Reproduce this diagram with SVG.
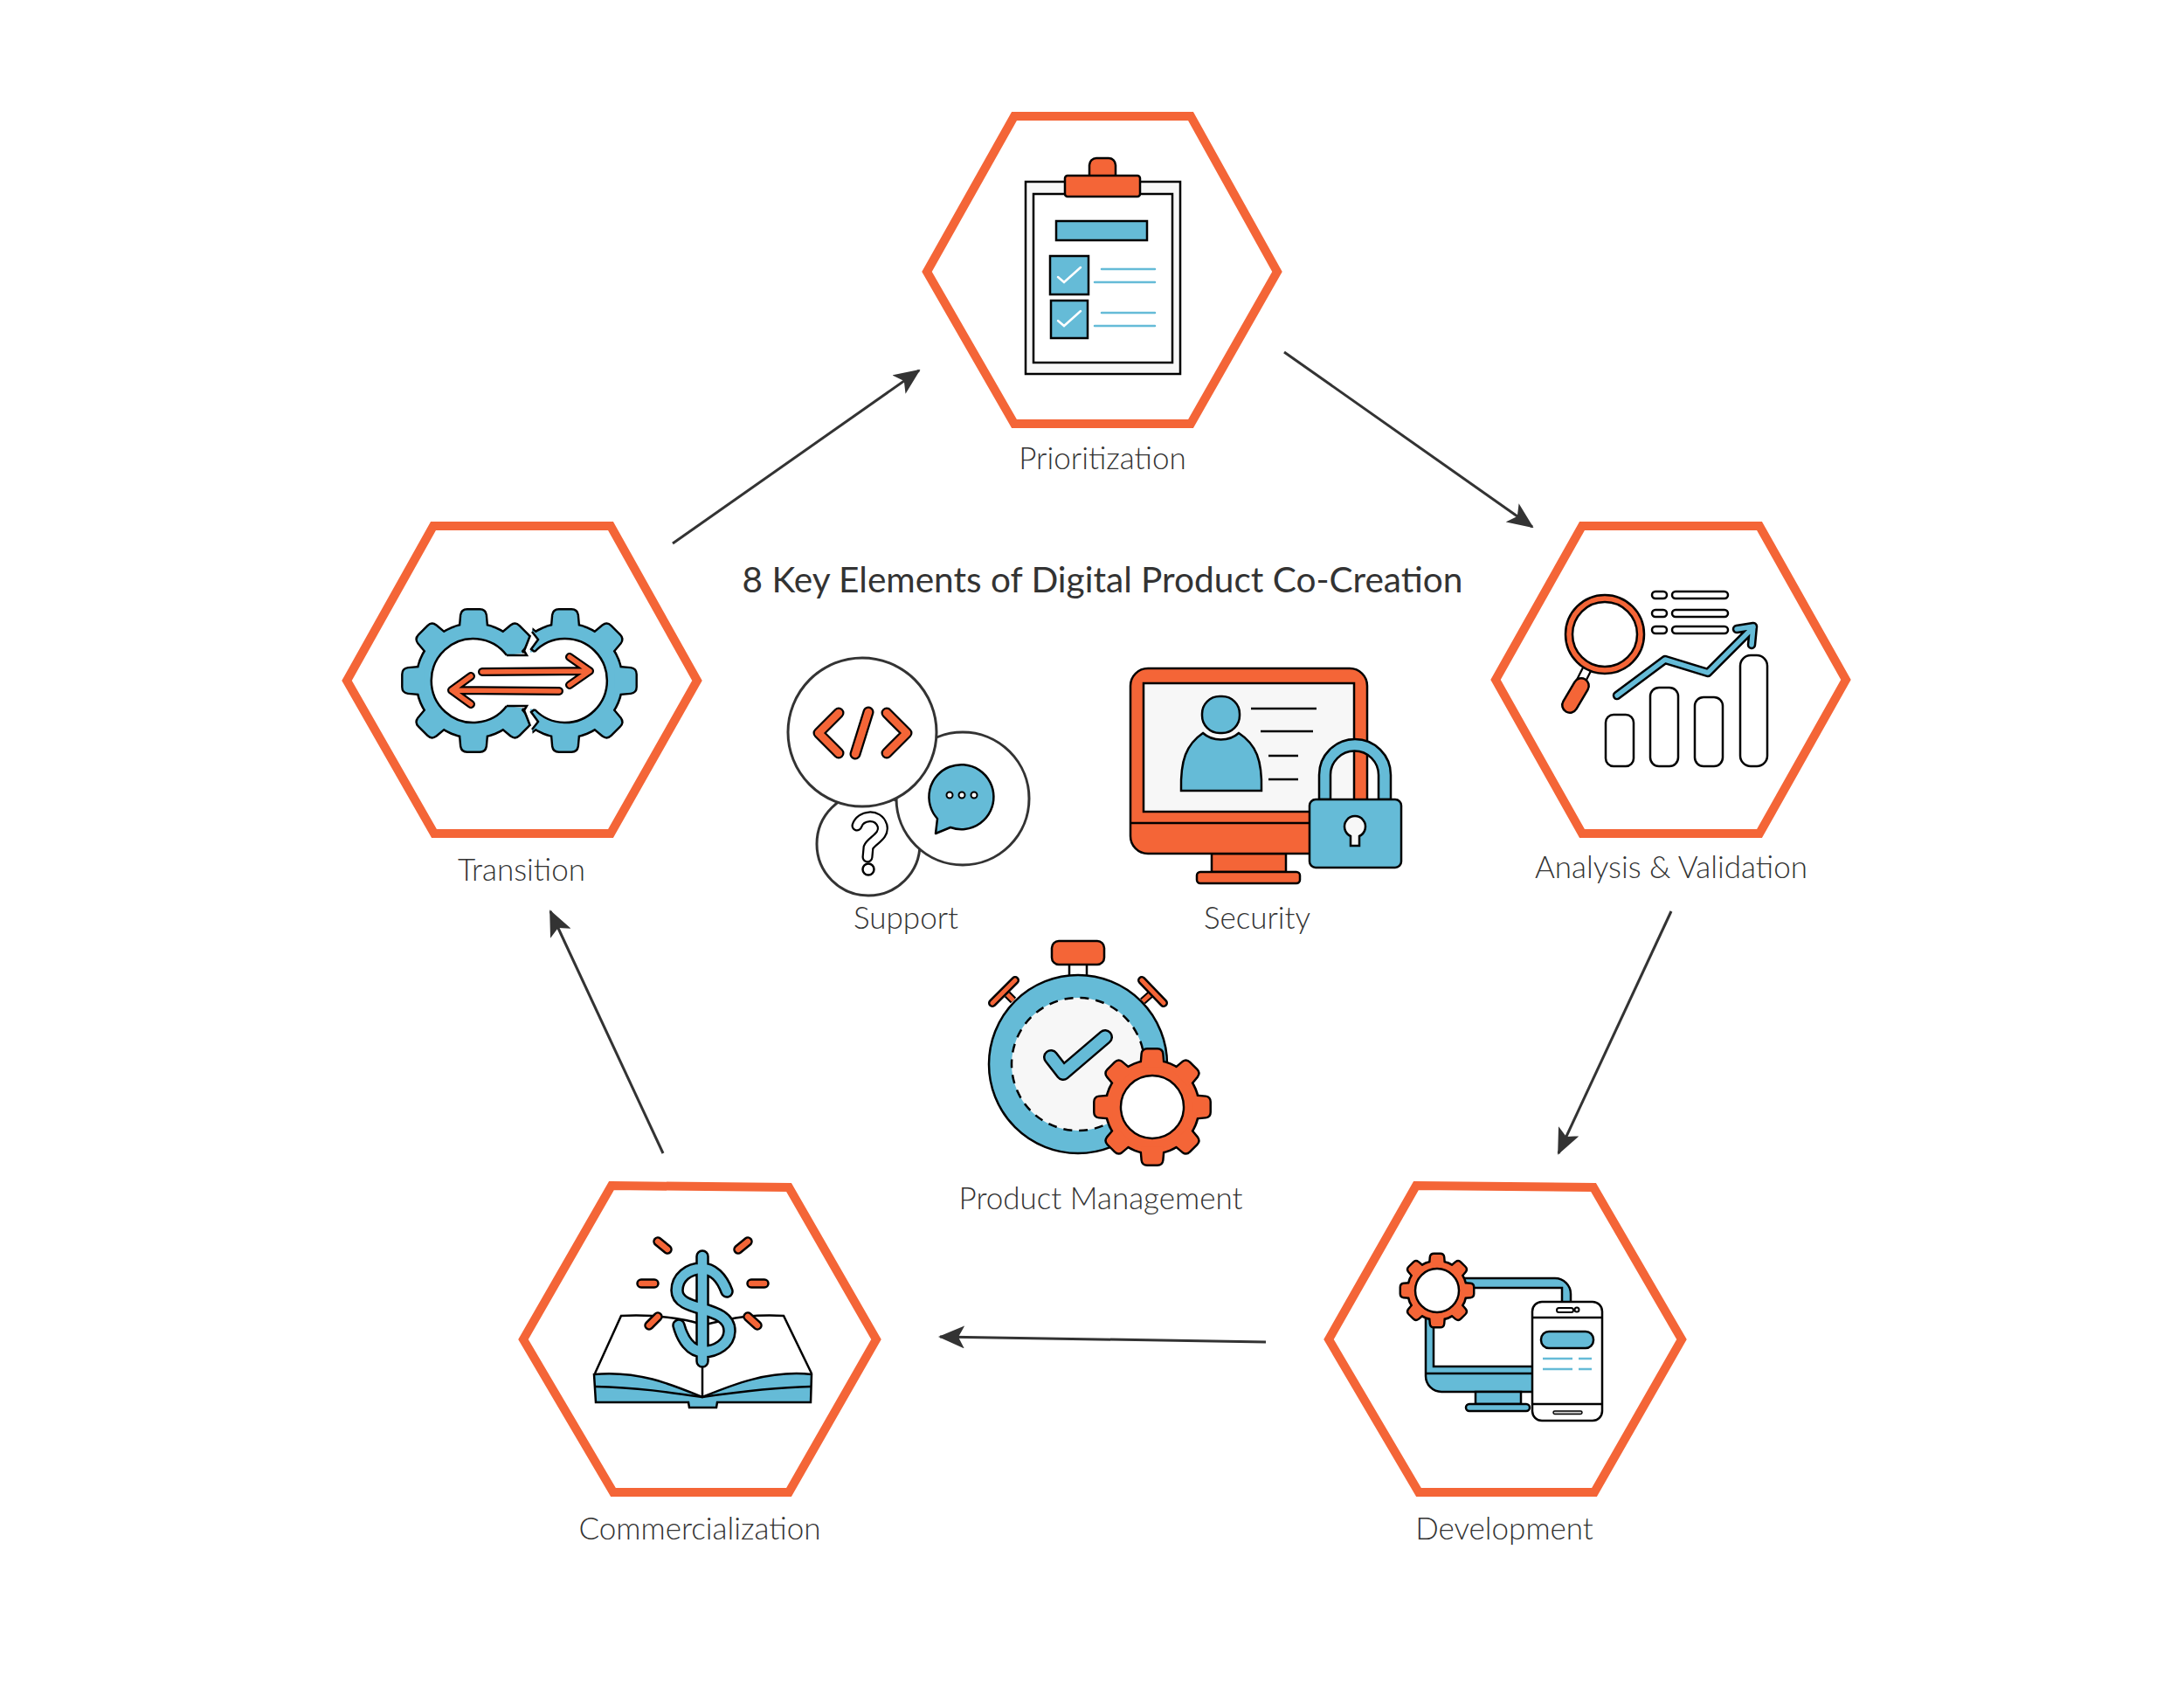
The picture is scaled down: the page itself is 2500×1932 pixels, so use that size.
<svg xmlns="http://www.w3.org/2000/svg" width="2500" height="1932" viewBox="0 0 2500 1932">
<style>
.hex{fill:#fff;stroke:#F46537;stroke-width:10;stroke-miterlimit:10}
.lbl{font-family:Lato,"Liberation Sans",sans-serif;font-weight:300;font-size:35px;fill:#333;text-anchor:middle}
.title{font-family:Lato,"Liberation Sans",sans-serif;font-weight:400;font-size:40.6px;fill:#333;text-anchor:middle}
.conn{fill:none;stroke:#333;stroke-width:3}
.o{fill:#F46537;stroke:#000;stroke-width:2.5}
.b{fill:#65BBD7;stroke:#000;stroke-width:2.5}
.w{fill:#fff;stroke:#000;stroke-width:2.5}
.g{fill:#F7F7F7;stroke:#000;stroke-width:2.5}
.k{fill:none;stroke:#000;stroke-width:2.5}
.bl{fill:none;stroke:#65BBD7;stroke-width:2.5;stroke-linecap:round}
.ro{fill:none;stroke:#000;stroke-linecap:round;stroke-linejoin:round}
.ci{fill:#fff;stroke:#333;stroke-width:3}
</style>
<defs>
<marker id="ah" viewBox="0 0 30 26" refX="28" refY="13" markerWidth="30" markerHeight="26" markerUnits="userSpaceOnUse" orient="auto"><path d="M0,0 L30,13 L0,26 L7,13 Z" fill="#333"/></marker>
<g id="gear"><circle r="80"/><path id="tooth" d="M-19,-70 L-17,-93 Q-16,-100 -9,-100 L9,-100 Q16,-100 17,-93 L19,-70 Z"/><use href="#tooth" transform="rotate(45)"/><use href="#tooth" transform="rotate(90)"/><use href="#tooth" transform="rotate(135)"/><use href="#tooth" transform="rotate(180)"/><use href="#tooth" transform="rotate(225)"/><use href="#tooth" transform="rotate(270)"/><use href="#tooth" transform="rotate(315)"/></g>
<clipPath id="cpL"><polygon points="400,650 607,650 607,727 600,745 603,750 603,808 600,813 607,831 607,910 400,910"/></clipPath>
<clipPath id="cpR"><polygon points="900,650 620,650 609,723 616,732 607,745 607,813 616,826 609,835 620,910 900,910"/></clipPath>
</defs>
<rect width="2500" height="1932" fill="#fff"/>
<g id="connectors">
<line class="conn" x1="770" y1="622" x2="1052" y2="424" marker-end="url(#ah)"/>
<line class="conn" x1="1470" y1="403" x2="1754" y2="603" marker-end="url(#ah)"/>
<line class="conn" x1="1913" y1="1043" x2="1784" y2="1320" marker-end="url(#ah)"/>
<line class="conn" x1="1449" y1="1536" x2="1076" y2="1530" marker-end="url(#ah)"/>
<line class="conn" x1="759" y1="1320" x2="630" y2="1043" marker-end="url(#ah)"/>
</g>
<g id="title"><text class="title" x="1262" y="678">8 Key Elements of Digital Product Co-Creation</text></g>

<g id="prioritization">
<polygon class="hex" points="1161,133 1363,133 1462,311 1363,485 1161,485 1061,311"/>
<rect class="g" x="1174" y="208" width="177" height="220"/>
<rect class="w" x="1183" y="222" width="159" height="193"/>
<rect class="o" x="1247" y="181" width="30" height="30" rx="8"/>
<rect class="o" x="1219" y="201" width="86" height="24" rx="3"/>
<rect class="b" x="1209" y="253" width="104" height="22"/>
<rect class="b" x="1202" y="293" width="44" height="44"/>
<rect class="b" x="1203" y="344" width="42" height="43"/>
<path d="M1211,317 L1218,323 L1237,306 M1211,367 L1218,373 L1237,356" fill="none" stroke="#fff" stroke-width="2.5" stroke-linecap="round"/>
<path class="bl" d="M1261,308 H1322 M1253,323 H1322 M1261,358 H1322 M1253,373 H1322"/>
<text class="lbl" x="1262" y="537">Prioritization</text>
</g>

<g id="analysis">
<polygon class="hex" points="1811,602 2014,602 2113,778 2014,954 1811,954 1712,778"/>
<path d="M1818,763 L1809,781" stroke="#000" stroke-width="12" fill="none"/>
<path d="M1818,763 L1809,781" stroke="#fff" stroke-width="7.5" fill="none"/>
<path class="ro" stroke-width="20" d="M1810,785 L1797,807"/>
<path d="M1810,785 L1797,807" stroke="#F46537" stroke-width="15" stroke-linecap="round" fill="none"/>
<circle class="o" cx="1837" cy="726" r="45"/>
<circle class="w" cx="1837" cy="726" r="37"/>
<rect class="w" x="1891" y="677" width="17" height="8" rx="4"/><rect class="w" x="1914" y="677" width="64" height="8" rx="4"/>
<rect class="w" x="1891" y="698" width="17" height="8" rx="4"/><rect class="w" x="1914" y="698" width="64" height="8" rx="4"/>
<rect class="w" x="1891" y="717" width="17" height="8" rx="4"/><rect class="w" x="1914" y="717" width="64" height="8" rx="4"/>
<rect class="w" x="1838" y="818" width="32" height="59" rx="9"/>
<rect class="w" x="1889" y="787" width="32" height="90" rx="10"/>
<rect class="w" x="1940" y="798" width="32" height="79" rx="10"/>
<rect class="w" x="1992" y="750" width="31" height="127" rx="12"/>
<path class="ro" stroke-width="10.5" d="M1851,796 L1906,755 L1955,770 L2007,718 M1988,720 L2007,717 L2005,738"/>
<path d="M1851,796 L1906,755 L1955,770 L2007,718 M1988,720 L2007,717 L2005,738" fill="none" stroke="#65BBD7" stroke-width="5.5" stroke-linecap="round" stroke-linejoin="round"/>
<text class="lbl" x="1913" y="1005">Analysis &amp; Validation</text>
</g>

<g id="development">
<polygon class="hex" points="1621,1357 1824,1359 1925,1533 1825,1708 1624,1708 1521,1533"/>
<path class="b" d="M1650,1463 H1780 A18,18 0 0 1 1798,1481 V1495 H1788 V1474 H1641 V1564 H1760 V1593 H1650 A18,18 0 0 1 1632,1575 V1480 Z"/>
<path class="k" d="M1633,1572 H1760"/>
<rect class="b" x="1689" y="1593" width="52" height="14"/>
<rect class="b" x="1678" y="1607" width="73" height="8" rx="4"/>
<rect class="w" x="1754" y="1490" width="80" height="136" rx="11"/>
<path class="k" d="M1754,1508 H1834 M1754,1607 H1834"/>
<rect class="w" x="1782" y="1497" width="19" height="5" rx="2.5" style="stroke-width:2"/>
<circle class="w" cx="1805" cy="1499" r="2.5" style="stroke-width:2"/>
<rect class="b" x="1764" y="1524" width="60" height="19" rx="9"/>
<path class="bl" d="M1766,1555 H1800 M1807,1555 H1822 M1766,1567 H1800 M1807,1567 H1822" style="stroke-linecap:butt"/>
<rect x="1778" y="1615" width="33" height="3.5" rx="1.7" fill="#ccc" stroke="#000" stroke-width="1.5"/>
<g transform="translate(1645,1477) scale(.41)"><use href="#gear" fill="#F46537" stroke="#000" stroke-width="12" stroke-linejoin="round"/><use href="#gear" fill="#F46537"/><circle r="61" fill="#fff" stroke="#000" stroke-width="6"/></g>
<text class="lbl" x="1722" y="1762">Development</text>
</g>

<g id="commercialization">
<polygon class="hex" points="700,1357 903,1359 1003,1533 903,1708 702,1708 599,1533"/>
<path class="k" d="M681,1572 L711,1506 Q750,1504 785,1511 Q800,1514 804,1517 Q815,1514 830,1511 Q860,1504 897,1506 L929,1572"/>
<path class="b" d="M680,1573 C730,1568 770,1585 804,1599 C838,1585 880,1568 929,1573 L928,1605 L821,1605 L820,1611 L789,1611 L788,1605 L682,1605 Z"/>
<path class="k" d="M681,1587 C730,1588 770,1594 804,1599 C838,1594 880,1588 928,1587 M804,1560 V1599"/>
<path class="ro" stroke-width="11.5" d="M753,1421 L764,1430 M856,1421 L845,1430 M734,1469 H749 M860,1469 H875 M753,1507 L743,1517 M856,1507 L867,1517"/>
<path d="M753,1421 L764,1430 M856,1421 L845,1430 M734,1469 H749 M860,1469 H875 M753,1507 L743,1517 M856,1507 L867,1517" fill="none" stroke="#F46537" stroke-width="6.5" stroke-linecap="round"/>
<path class="ro" stroke-width="15.5" d="M804,1438 V1558 M832,1478 C826,1462 816,1452 803,1452 C788,1452 775,1462 775,1477 C775,1490 790,1494 804,1498 C820,1503 835,1508 835,1523 C835,1538 820,1547 805,1547 C790,1547 781,1532 777,1517"/>
<path d="M804,1438 V1558 M832,1478 C826,1462 816,1452 803,1452 C788,1452 775,1462 775,1477 C775,1490 790,1494 804,1498 C820,1503 835,1508 835,1523 C835,1538 820,1547 805,1547 C790,1547 781,1532 777,1517" fill="none" stroke="#65BBD7" stroke-width="10.5" stroke-linecap="round"/>
<text class="lbl" x="801" y="1762">Commercialization</text>
</g>

<g id="transition">
<polygon class="hex" points="496,602 699,602 798,779 699,954 497,954 397,779"/>
<g clip-path="url(#cpL)"><g transform="translate(542,779) scale(.805)"><use href="#gear" fill="#65BBD7" stroke="#000" stroke-width="6" stroke-linejoin="round"/><use href="#gear" fill="#65BBD7"/></g></g>
<g clip-path="url(#cpR)"><g transform="translate(647,779) scale(.805)"><use href="#gear" fill="#65BBD7" stroke="#000" stroke-width="6" stroke-linejoin="round"/><use href="#gear" fill="#65BBD7"/></g></g>
<path d="M580,750 L612,746 A48,48 0 1 1 612,812 L580,808 A48,48 0 1 1 580,750 Z" fill="#fff"/>
<path class="k" d="M580,750 H603 L600,745 L607,727 M612,746 A48,48 0 1 1 612,812 M580,808 H603 L600,813 L607,831 M580,808 A48,48 0 1 1 580,750 M612,746 L608,743 L616,732 L609,723 M612,812 L608,815 L616,826 L609,835"/>
<path class="ro" stroke-width="10" d="M552,769 L675,768 M652,752 L675,768 L652,784 M640,791 L517,790 M539,774 L517,790 L539,806"/>
<path d="M552,769 L675,768 M652,752 L675,768 L652,784 M640,791 L517,790 M539,774 L517,790 L539,806" fill="none" stroke="#F46537" stroke-width="5.5" stroke-linecap="round" stroke-linejoin="round"/>
<text class="lbl" x="597" y="1008">Transition</text>
</g>

<g id="support">
<circle class="ci" cx="994" cy="966" r="59"/>
<circle class="ci" cx="1102" cy="914" r="76"/>
<circle class="ci" cx="987" cy="838" r="85"/>
<path class="ro" stroke-width="13" d="M960,816 L937,839 L960,862 M994,815 L979,863 M1015,816 L1038,839 L1015,862"/>
<path d="M960,816 L937,839 L960,862 M994,815 L979,863 M1015,816 L1038,839 L1015,862" fill="none" stroke="#F46537" stroke-width="8.5" stroke-linecap="round" stroke-linejoin="round"/>
<path class="b" d="M1073,937 A37,37 0 1 1 1088,947 L1071,954 Z" style="stroke-linejoin:round"/>
<circle class="w" cx="1087" cy="910" r="3.5" style="stroke-width:2"/><circle class="w" cx="1101" cy="910" r="3.5" style="stroke-width:2"/><circle class="w" cx="1115" cy="910" r="3.5" style="stroke-width:2"/>
<path class="ro" stroke-width="13" d="M981,945 C985,933 1005,930 1010,945 C1013,958 997,962 994,970 L993,981"/>
<path d="M981,945 C985,933 1005,930 1010,945 C1013,958 997,962 994,970 L993,981" fill="none" stroke="#fff" stroke-width="8.5" stroke-linecap="round"/>
<circle class="w" cx="994" cy="995" r="6.5"/>
<text class="lbl" x="1037" y="1063">Support</text>
</g>

<g id="security">
<rect class="k" x="1387" y="977" width="85" height="21" style="fill:#F46537"/>
<rect class="o" x="1370" y="998" width="118" height="13" rx="4"/>
<rect class="o" x="1294" y="765" width="271" height="212" rx="20"/>
<rect class="g" x="1309" y="782" width="241" height="147"/>
<path class="k" d="M1294,942 H1565"/>
<rect class="b" x="1376" y="797" width="43" height="42" rx="20"/>
<path class="b" d="M1352,905 C1351,870 1358,852 1377,839 C1388,849 1407,849 1418,839 C1438,852 1445,870 1444,905 Z"/>
<path class="k" d="M1432,811 H1507 M1443,837 H1503 M1452,865 H1486 M1452,892 H1486"/>
<path class="b" d="M1510,915 V887 A41,41 0 0 1 1592,887 V915 H1578 V887 A27.5,27.5 0 0 0 1523,887 V915 Z"/>
<rect class="b" x="1499" y="915" width="105" height="78" rx="7"/>
<path class="g" d="M1546,957 A12,12 0 1 1 1556,957 V968 H1546 Z"/>
<text class="lbl" x="1439" y="1063">Security</text>
</g>

<g id="product-management">
<path class="ro" d="M1153,1138 L1160,1145 M1317,1138 L1308,1146" style="stroke-width:9;stroke-linecap:butt"/>
<path d="M1153,1138 L1160,1145 M1317,1138 L1308,1146" stroke="#F46537" stroke-width="5" fill="none"/>
<path class="ro" stroke-width="10" d="M1162,1122 L1136,1148 M1307,1122 L1332,1148"/>
<path d="M1162,1122 L1136,1148 M1307,1122 L1332,1148" stroke="#F46537" stroke-width="5" fill="none" stroke-linecap="round"/>
<rect class="w" x="1224" y="1100" width="20" height="20"/>
<rect class="o" x="1204" y="1077" width="60" height="27" rx="8"/>
<circle class="b" cx="1234" cy="1218" r="102"/>
<circle cx="1234" cy="1218" r="76" fill="#F7F7F7" stroke="#000" stroke-width="2.5" stroke-dasharray="10 8"/>
<path class="ro" stroke-width="18" d="M1203,1210 L1217,1228 L1265,1187"/>
<path d="M1203,1210 L1217,1228 L1265,1187" fill="none" stroke="#65BBD7" stroke-width="13" stroke-linecap="round" stroke-linejoin="round"/>
<g transform="translate(1319,1267) scale(.655)"><use href="#gear" fill="#F46537" stroke="#000" stroke-width="7.5" stroke-linejoin="round"/><use href="#gear" fill="#F46537"/><circle r="55" fill="#fff" stroke="#000" stroke-width="3.7"/></g>
<text class="lbl" x="1260" y="1384">Product Management</text>
</g>
</svg>
